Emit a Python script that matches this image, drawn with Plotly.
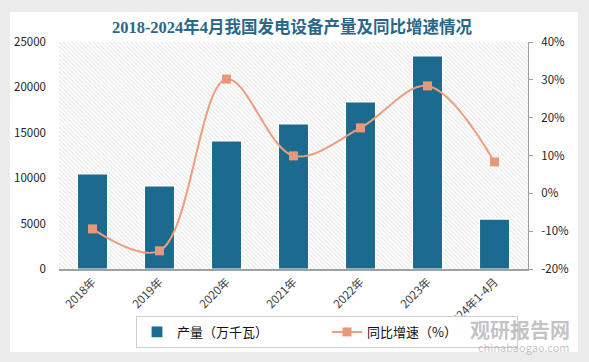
import plotly.graph_objects as go

categories = ["2018年", "2019年", "2020年", "2021年", "2022年", "2023年", "2024年1-4月"]
output_vals = [10460, 9150, 14100, 15970, 18400, 23460, 5500]
growth_vals = [-9.4, -15.2, 30.2, 9.9, 17.3, 28.4, 8.3]
left_ticks = [0, 5000, 10000, 15000, 20000, 25000]
right_ticks = [-20, -10, 0, 10, 20, 30, 40]

BAR = "#1c6b8e"
LINE = "#ee9e7e"
MARK = "#e9977a"
TXT = "#404040"

fig = go.Figure()

# hatched plot background
fig.add_trace(go.Bar(
    x=categories, y=[25000] * len(categories), width=1,
    marker=dict(color="white", line=dict(width=0),
                pattern=dict(shape="\\", fgcolor="#cccccc", bgcolor="white",
                             fillmode="overlay", size=3, solidity=0.35)),
    hoverinfo="skip", showlegend=False,
))

fig.add_trace(go.Bar(
    x=categories, y=output_vals, width=0.45, name="产量（万千瓦）",
    marker=dict(color=BAR, line=dict(color="white", width=1.2)),
))

fig.add_trace(go.Scatter(
    x=categories, y=growth_vals, yaxis="y2", name="同比增速（%）",
    mode="lines+markers", line=dict(color=LINE, width=2, shape="spline", smoothing=1.0),
    marker=dict(symbol="square", size=9, color=MARK),
))

# card geometry (pixel -> paper)
L, R, T, B = 59, 528, 42, 269
W, H = R - L, B - T
def px(x):
    return (x - L) / W
def py(y):
    return (B - y) / H

fig.update_layout(
    width=589, height=362,
    margin=dict(l=L, r=589 - R, t=T, b=362 - B),
    paper_bgcolor="#ececec", plot_bgcolor="rgba(0,0,0,0)",
    barmode="overlay",
    font=dict(family="Noto Sans CJK SC, Noto Sans, sans-serif", size=11, color=TXT),
    title=dict(text="<b>2018-2024年4月我国发电设备产量及同比增速情况</b>",
               x=px(292), xref="paper", xanchor="center", y=1 - 27 / 362, yanchor="middle",
               font=dict(family="Liberation Serif, Noto Sans CJK SC, serif", size=16.5, color="#2a6788")),
    xaxis=dict(type="category", range=[-0.5, 6.5], showgrid=False, showline=True,
               linecolor="#a0a0a0", linewidth=1.5, tickangle=-45, ticks="",
               tickfont=dict(size=11.5, color=TXT)),
    yaxis=dict(range=[0, 25000], tickvals=left_ticks, ticktext=[str(v) for v in left_ticks],
               showgrid=False, zeroline=False, ticklabelstandoff=12,
               showline=False, ticks="", tickfont=dict(size=11.5, color="#222")),
    yaxis2=dict(range=[-20, 40], tickvals=right_ticks, ticktext=[f"{v}%" for v in right_ticks],
                overlaying="y", side="right", showgrid=False, zeroline=False,
                showline=True, linecolor="#a0a0a0", linewidth=1, ticks="outside",
                ticklen=4, tickcolor="#a0a0a0", ticklabelstandoff=6,
                tickfont=dict(size=11.5, color="#222")),
    legend=dict(orientation="h", x=px(327), xanchor="center", y=py(332), yanchor="middle",
                bgcolor="white", bordercolor="#d0d0d0", borderwidth=1,
                entrywidth=145, font=dict(size=13, color="#111")),
    showlegend=True,
    shapes=[dict(type="rect", xref="paper", yref="paper", x0=px(10), x1=px(578),
                 y0=py(352), y1=py(12), fillcolor="white", line=dict(width=0), layer="below")],
    annotations=[
        dict(text="<b>观研报告网</b>", xref="paper", yref="paper", x=px(572), y=py(329),
             xanchor="right", yanchor="middle", showarrow=False,
             font=dict(size=20, color="rgba(120,120,120,0.45)")),
        dict(text="chinabaogao.com", xref="paper", yref="paper", x=px(572), y=py(347),
             xanchor="right", yanchor="middle", showarrow=False,
             font=dict(size=11, color="rgba(120,120,120,0.45)")),
    ],
)

fig.write_html("out.html")
